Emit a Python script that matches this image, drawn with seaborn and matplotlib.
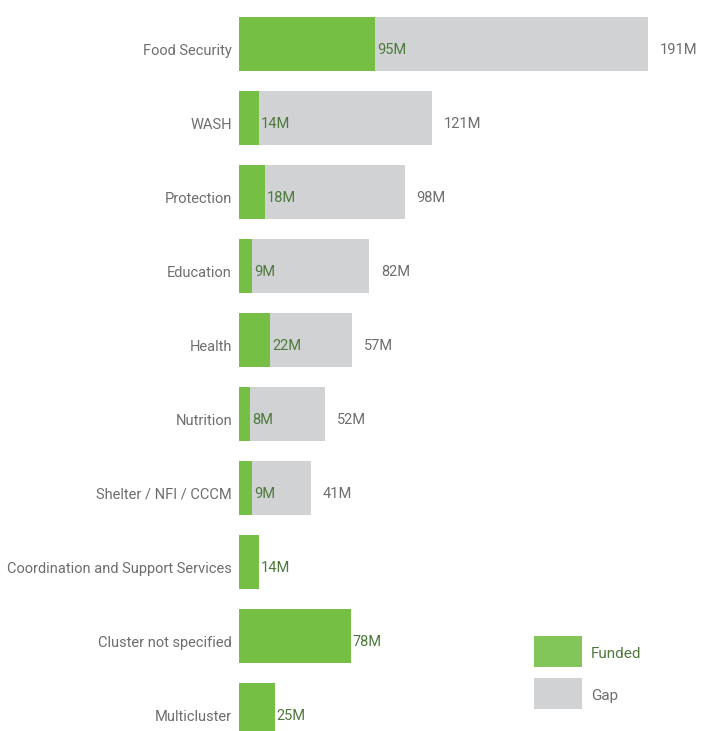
import matplotlib
matplotlib.use("Agg")
import matplotlib.pyplot as plt
import matplotlib.transforms as mtransforms
import seaborn as sns
import pandas as pd
import numpy as np
from matplotlib.patches import Rectangle

categories = ["Food Security", "WASH", "Protection", "Education", "Health", "Nutrition",
              "Shelter / NFI / CCCM", "Coordination and Support Services",
              "Cluster not specified", "Multicluster"]
funded = [95, 14, 18, 9, 22, 8, 9, 14, 78, 25]
gap = [191, 121, 98, 82, 57, 52, 41, 0, 0, 0]
legend_labels = ["Funded", "Gap"]

GREEN = "#76bf45"
GREEN_LEG = "#82c65a"
GRAY = "#d1d2d4"
TXT = "#6d6e70"
GTXT = "#4d7a3c"

sns.set_theme(style="white")
plt.rcParams["font.family"] = ["Roboto", "DejaVu Sans"]

df = pd.DataFrame({"cat": categories, "funded": funded, "gap": gap})
df["total"] = df["funded"] + df["gap"]

W, H = 701, 731
fig = plt.figure(figsize=(W / 100, H / 100), dpi=100)
ax = fig.add_axes([239 / W, 0, 1 - 239 / W, 1])

sns.barplot(data=df, x="total", y="cat", color=GRAY, orient="h", width=0.72,
            ax=ax, saturation=1, linewidth=0)
sns.barplot(data=df, x="funded", y="cat", color=GREEN, orient="h", width=0.72,
            ax=ax, saturation=1, linewidth=0)

ax.set_xlim(0, (W - 239) / 1.43)
ax.set_ylim(9.284, -0.595)
for s in ax.spines.values():
    s.set_visible(False)
ax.set_xticks([])
ax.set_xlabel("")
ax.set_ylabel("")
fs = 10.5
ax.tick_params(axis="y", length=0, pad=5, labelsize=fs, labelcolor=TXT)
shift = mtransforms.ScaledTranslation(0, -3.8 / 72, fig.dpi_scale_trans)
for t in ax.get_yticklabels():
    t.set_transform(t.get_transform() + shift)

for i, (f, g) in enumerate(zip(funded, gap)):
    ax.annotate(f"{f}M", (f, i), xytext=(1.5, -4), textcoords="offset points",
                ha="left", va="center", color=GTXT, fontsize=fs)
    if g > 0:
        ax.annotate(f"{g}M", (f + g, i), xytext=(8.5, -4), textcoords="offset points",
                    ha="left", va="center", color=TXT, fontsize=fs)

# legend (drawn manually in figure pixel coordinates)
leg_items = [(legend_labels[0], GREEN_LEG, GTXT, 636), (legend_labels[1], GRAY, TXT, 678)]
for lab, fc, tc, top in leg_items:
    fig.add_artist(Rectangle((534 / W, 1 - (top + 31) / H), 48 / W, 31 / H,
                             transform=fig.transFigure, facecolor=fc, edgecolor="none"))
    fig.text(591 / W, 1 - (top + 18) / H, lab, ha="left", va="center",
             color=tc, fontsize=11)

fig.savefig("out.png", dpi=100)
